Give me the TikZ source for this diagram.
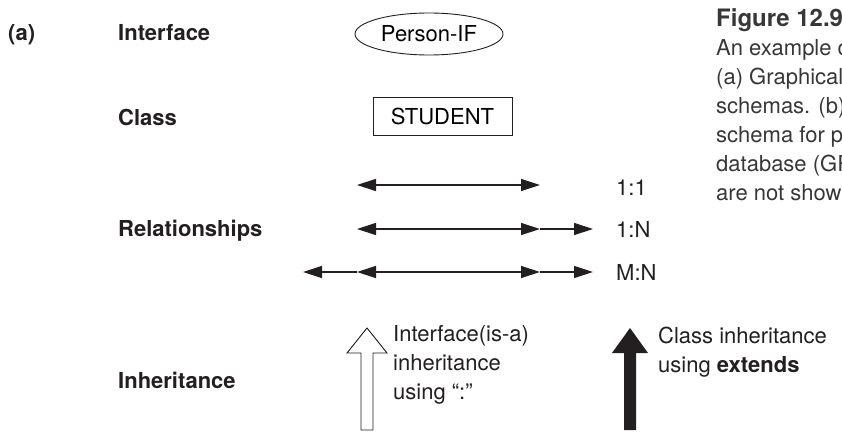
\documentclass[tikz,border=0pt]{standalone}
\usepackage{fontspec}
\setmainfont{TeX Gyre Heros}
\usetikzlibrary{arrows.meta,shapes.geometric}

\begin{document}
\begin{tikzpicture}[x=1pt, y=-1pt, line join=miter,
  lbl/.style={anchor=base west, inner sep=0pt, font=\fontsize{22}{29}\selectfont\bfseries},
  txt/.style={anchor=north west, inner sep=0pt, align=left, font=\fontsize{22}{29}\selectfont},
  rel/.style={line width=1.3pt, >={Triangle[length=19pt, width=12pt]}}]

% Colors
\definecolor{ink}{RGB}{35,31,32}
\definecolor{capgray}{RGB}{55,55,55}

\useasboundingbox (0,0) rectangle (842,433);
\clip (0,0) rectangle (842,433);

% Row labels
\node[lbl, ink] (tagA) at (8,41) {(a)};
\node[lbl, ink] (lblIface) at (118,41) {Interface};
\node[lbl, ink] (lblClass) at (118,125) {Class};
\node[lbl, ink] (lblRel) at (118,236) {Relationships};
\node[lbl, ink] (lblInh) at (118,388) {Inheritance};

% Interface and class symbols
\node[draw=ink, line width=0.9pt, ellipse, inner sep=0pt, minimum width=148pt, minimum height=42pt,
  font=\fontsize{22}{29}\selectfont] (person) at (429,34) {Person-IF};
\node[draw=ink, line width=0.9pt, inner sep=0pt, minimum width=139pt, minimum height=38pt,
  font=\fontsize{22}{29}\selectfont] (student) at (442.5,116) {STUDENT};

% Relationship arrows
\coordinate (oneL) at (357,185);
\coordinate (oneR) at (540,185);
\draw[rel, ink, <->] (oneL) -- (oneR);
\node[lbl, font=\fontsize{22}{29}\selectfont, ink] (card11) at (616,195) {1:1};

\coordinate (manyL) at (357,229);
\coordinate (manyM) at (540,229);
\coordinate (manyR) at (593,229);
\draw[rel, ink, <->] (manyL) -- (manyM);
\draw[rel, ink, ->] (manyM) -- (manyR);
\node[lbl, font=\fontsize{22}{29}\selectfont, ink] (card1N) at (616,237) {1:N};

\coordinate (mnA) at (303,272);
\coordinate (mnB) at (357,272);
\coordinate (mnC) at (540,272);
\coordinate (mnD) at (593,272);
\draw[rel, ink, ->] (mnB) -- (mnA);
\draw[rel, ink, <->] (mnB) -- (mnC);
\draw[rel, ink, ->] (mnC) -- (mnD);
\node[lbl, font=\fontsize{22}{29}\selectfont, ink] (cardMN) at (616,280) {M:N};

% Inheritance block arrows
\draw[ink, line width=0.9pt, fill=white]
  (361,430) -- (361,353) -- (347,353) -- (367,328) -- (387,353) -- (373,353) -- (373,430) -- cycle;
\node[txt, ink] (ifaceInh) at (393,325) {Interface(is-a)\\inheritance\\using ``:''};

\fill[ink]
  (624,430) -- (624,353) -- (612,353) -- (630,328) -- (648,353) -- (636,353) -- (636,430) -- cycle;
\node[txt, ink] (classInh) at (658,327) {Class inheritance\\using \textbf{extends}};

% Caption
\node[txt, capgray] (caption) at (716,8) {{\fontsize{24}{29}\selectfont\bfseries Figure 12.9}\\
  An example of a database schema.\\
  (a) Graphical notation for representing ODL\\
  schemas. (b) A graphical object database\\
  schema for part of the UNIVERSITY\\
  database (GRADE and DEGREE classes\\
  are not shown).};

\end{tikzpicture}
\end{document}
